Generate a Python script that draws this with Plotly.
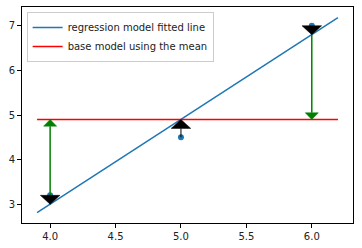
import plotly.graph_objects as go

# data
x_vals = [4.0, 5.0, 6.0]
y_actual = [3.2, 4.5, 7.0]
line_x = [3.9, 6.2]
slope = 1.9
intercept = -4.6
mean_y = 4.9
x_ticks = [4.0, 4.5, 5.0, 5.5, 6.0]
y_ticks = [3, 4, 5, 6, 7]

y_pred = [slope * x + intercept for x in x_vals]
line_y = [slope * x + intercept for x in line_x]

BLUE = "#1f77b4"

def arrows(x0s, y0s, y1s, head_w, head_len):
    sx, sy, tx, ty = [], [], [], []
    for x, a, b in zip(x0s, y0s, y1s):
        d = b - a
        if abs(d) < 1e-9:
            continue
        s = 1 if d > 0 else -1
        base = b - s * head_len
        sx += [x, x, None]
        sy += [a, base, None]
        tx += [x - head_w / 2, x + head_w / 2, x, x - head_w / 2, None]
        ty += [base, base, b, base, None]
    return sx, sy, tx, ty

fig = go.Figure()

fig.add_trace(go.Scatter(x=x_vals, y=y_actual, mode="markers",
                         marker=dict(color=BLUE, size=6), showlegend=False))
fig.add_trace(go.Scatter(x=line_x, y=line_y, mode="lines",
                         line=dict(color=BLUE, width=1.5),
                         name="regression model fitted line", legendrank=1))
fig.add_trace(go.Scatter(x=line_x, y=[mean_y, mean_y], mode="lines",
                         line=dict(color="red", width=1.5),
                         name="base model using the mean", legendrank=2))

# green arrows: predicted -> mean
gsx, gsy, gtx, gty = arrows(x_vals, y_pred, [mean_y] * 3, 0.1, 0.15)
fig.add_trace(go.Scatter(x=gsx, y=gsy, mode="lines",
                         line=dict(color="green", width=1.5), showlegend=False))
fig.add_trace(go.Scatter(x=gtx, y=gty, mode="lines", fill="toself",
                         fillcolor="green", line=dict(color="green", width=0.5),
                         showlegend=False))

# black arrows: actual -> predicted
bsx, bsy, btx, bty = arrows(x_vals, y_actual, y_pred, 0.15, 0.2)
fig.add_trace(go.Scatter(x=bsx, y=bsy, mode="lines",
                         line=dict(color="black", width=1), showlegend=False))
fig.add_trace(go.Scatter(x=btx, y=bty, mode="lines", fill="toself",
                         fillcolor="black", line=dict(color="black", width=0.5),
                         showlegend=False))

axis_common = dict(showgrid=False, zeroline=False, showline=True, mirror=True,
                   linecolor="black", linewidth=1, ticks="outside", ticklen=4,
                   tickcolor="black", tickfont=dict(family="DejaVu Sans", size=10, color="#222"))

fig.update_layout(
    width=362, height=248,
    margin=dict(l=22, r=9, t=6, b=24),
    plot_bgcolor="white", paper_bgcolor="white",
    xaxis=dict(range=[3.785, 6.315], tickvals=x_ticks, tickformat=".1f", **axis_common),
    yaxis=dict(range=[2.58, 7.42], tickvals=y_ticks, **axis_common),
    legend=dict(x=0.014, y=0.977, xanchor="left", yanchor="top",
                bgcolor="white", bordercolor="#cccccc", borderwidth=1,
                font=dict(family="DejaVu Sans", size=10, color="#222"),
                itemwidth=30, tracegroupgap=0),
    showlegend=True,
)

fig.write_html("out.html")
